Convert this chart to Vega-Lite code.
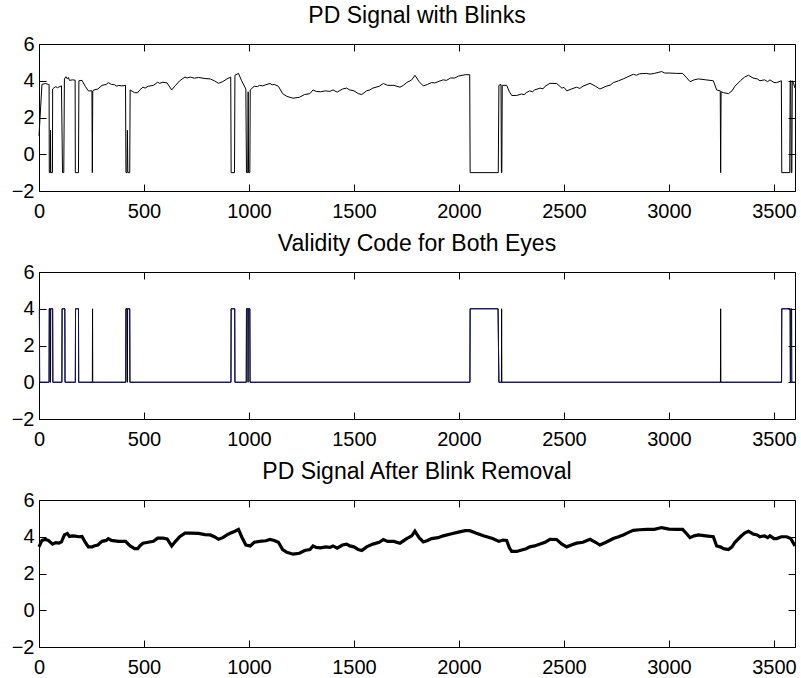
{
  "$schema": "https://vega.github.io/schema/vega-lite/v6.json",
  "background": "white",
  "padding": {"left": 10, "top": 4, "right": 0, "bottom": 0},
  "spacing": 10,
  "config": {
    "view": {"stroke": "black", "strokeWidth": 1},
    "font": "Liberation Sans",
    "axis": {"grid": false, "domain": false, "tickSize": -7, "tickColor": "black", "tickWidth": 1, "labelFont": "Liberation Sans", "labelFontSize": 20, "labelColor": "black", "labelFlush": false, "labelOverlap": false, "format": "d"},
    "axisX": {"labelPadding": 17},
    "axisY": {"labelPadding": 12},
    "title": {"font": "Liberation Sans", "fontSize": 23, "fontWeight": "normal", "color": "black", "baseline": "alphabetic", "offset": 6}
  },
  "datasets": {
    "pd": [
      {"x":0,"y":1.0},{"x":14,"y":3.8},{"x":30,"y":3.85},{"x":45,"y":3.8},{"x":48,"y":3.8},{"x":49,"y":-1},{"x":54,"y":-1},{"x":55,"y":1.3},{"x":56,"y":-1},{"x":64,"y":-1},{"x":65,"y":3.55},{"x":72,"y":3.62},{"x":80,"y":3.68},{"x":88,"y":3.62},{"x":95,"y":3.66},{"x":107,"y":3.72},{"x":112,"y":-1},{"x":118,"y":-1},{"x":121,"y":4.1},{"x":128,"y":4.22},{"x":135,"y":4.1},{"x":140,"y":4.18},{"x":145,"y":4.02},{"x":160,"y":4.05},{"x":172,"y":4.03},{"x":173,"y":-1},{"x":188,"y":-1},{"x":190,"y":4.0},{"x":205,"y":4.02},{"x":220,"y":3.7},{"x":235,"y":3.45},{"x":252,"y":3.45},{"x":254,"y":-1},{"x":256,"y":3.45},{"x":262,"y":3.5},{"x":280,"y":3.55},{"x":300,"y":3.75},{"x":320,"y":3.8},{"x":330,"y":3.9},{"x":345,"y":3.8},{"x":360,"y":3.78},{"x":370,"y":3.7},{"x":380,"y":3.75},{"x":395,"y":3.72},{"x":412,"y":3.75},{"x":414,"y":-1},{"x":419,"y":-1},{"x":421,"y":1.3},{"x":423,"y":-1},{"x":432,"y":-1},{"x":434,"y":3.5},{"x":455,"y":3.35},{"x":470,"y":3.35},{"x":480,"y":3.5},{"x":495,"y":3.65},{"x":505,"y":3.6},{"x":520,"y":3.7},{"x":545,"y":3.75},{"x":565,"y":3.92},{"x":575,"y":3.86},{"x":590,"y":3.92},{"x":610,"y":3.88},{"x":632,"y":3.5},{"x":650,"y":3.75},{"x":670,"y":4.0},{"x":695,"y":4.2},{"x":705,"y":4.15},{"x":720,"y":4.2},{"x":740,"y":4.14},{"x":760,"y":4.18},{"x":790,"y":4.12},{"x":815,"y":4.1},{"x":835,"y":4.0},{"x":855,"y":3.86},{"x":875,"y":3.95},{"x":895,"y":4.1},{"x":913,"y":4.2},{"x":915,"y":-1},{"x":931,"y":-1},{"x":933,"y":4.3},{"x":950,"y":4.4},{"x":965,"y":4.0},{"x":985,"y":3.55},{"x":988,"y":-1},{"x":994,"y":-1},{"x":996,"y":3.4},{"x":998,"y":-1},{"x":1004,"y":-1},{"x":1006,"y":3.5},{"x":1025,"y":3.7},{"x":1040,"y":3.68},{"x":1050,"y":3.75},{"x":1065,"y":3.72},{"x":1080,"y":3.78},{"x":1100,"y":3.85},{"x":1110,"y":3.78},{"x":1120,"y":3.8},{"x":1140,"y":3.7},{"x":1160,"y":3.3},{"x":1180,"y":3.15},{"x":1210,"y":3.05},{"x":1240,"y":3.1},{"x":1265,"y":3.25},{"x":1290,"y":3.3},{"x":1305,"y":3.5},{"x":1320,"y":3.42},{"x":1340,"y":3.4},{"x":1365,"y":3.45},{"x":1385,"y":3.42},{"x":1400,"y":3.5},{"x":1420,"y":3.38},{"x":1445,"y":3.55},{"x":1465,"y":3.6},{"x":1480,"y":3.5},{"x":1500,"y":3.45},{"x":1520,"y":3.3},{"x":1537,"y":3.25},{"x":1560,"y":3.45},{"x":1575,"y":3.5},{"x":1590,"y":3.6},{"x":1620,"y":3.7},{"x":1640,"y":3.85},{"x":1660,"y":3.75},{"x":1690,"y":3.75},{"x":1719,"y":3.65},{"x":1735,"y":3.75},{"x":1751,"y":3.9},{"x":1775,"y":4.05},{"x":1790,"y":4.3},{"x":1810,"y":3.95},{"x":1830,"y":3.72},{"x":1850,"y":3.8},{"x":1870,"y":3.9},{"x":1885,"y":3.88},{"x":1900,"y":3.95},{"x":1925,"y":4.05},{"x":1940,"y":4.02},{"x":1960,"y":4.15},{"x":1980,"y":4.15},{"x":1997,"y":4.25},{"x":2030,"y":4.33},{"x":2051,"y":4.33},{"x":2053,"y":-1},{"x":2187,"y":-1},{"x":2190,"y":3.75},{"x":2200,"y":3.8},{"x":2202,"y":-1},{"x":2204,"y":-1},{"x":2206,"y":3.75},{"x":2227,"y":3.75},{"x":2240,"y":3.4},{"x":2251,"y":3.2},{"x":2275,"y":3.2},{"x":2298,"y":3.28},{"x":2310,"y":3.24},{"x":2320,"y":3.35},{"x":2337,"y":3.45},{"x":2350,"y":3.4},{"x":2360,"y":3.5},{"x":2386,"y":3.6},{"x":2400,"y":3.56},{"x":2410,"y":3.7},{"x":2433,"y":3.86},{"x":2465,"y":3.85},{"x":2490,"y":3.6},{"x":2500,"y":3.64},{"x":2513,"y":3.45},{"x":2535,"y":3.55},{"x":2560,"y":3.65},{"x":2575,"y":3.58},{"x":2590,"y":3.7},{"x":2624,"y":3.86},{"x":2650,"y":3.7},{"x":2671,"y":3.55},{"x":2700,"y":3.7},{"x":2720,"y":3.76},{"x":2735,"y":3.9},{"x":2760,"y":4.0},{"x":2782,"y":4.1},{"x":2810,"y":4.25},{"x":2830,"y":4.35},{"x":2845,"y":4.3},{"x":2860,"y":4.38},{"x":2894,"y":4.4},{"x":2910,"y":4.36},{"x":2930,"y":4.4},{"x":2965,"y":4.5},{"x":2980,"y":4.42},{"x":3000,"y":4.42},{"x":3037,"y":4.4},{"x":3065,"y":4.4},{"x":3085,"y":4.15},{"x":3100,"y":3.95},{"x":3120,"y":4.05},{"x":3140,"y":4.1},{"x":3175,"y":4.05},{"x":3211,"y":4.0},{"x":3227,"y":3.5},{"x":3244,"y":3.45},{"x":3246,"y":-1},{"x":3248,"y":3.4},{"x":3260,"y":3.35},{"x":3283,"y":3.3},{"x":3300,"y":3.45},{"x":3314,"y":3.7},{"x":3340,"y":4.0},{"x":3360,"y":4.2},{"x":3378,"y":4.3},{"x":3400,"y":4.15},{"x":3420,"y":4.1},{"x":3433,"y":4.0},{"x":3455,"y":4.05},{"x":3470,"y":3.95},{"x":3481,"y":4.05},{"x":3500,"y":3.9},{"x":3513,"y":3.9},{"x":3535,"y":4.0},{"x":3537,"y":-1},{"x":3575,"y":-1},{"x":3577,"y":4.0},{"x":3580,"y":4.0},{"x":3582,"y":-1},{"x":3585,"y":-1},{"x":3587,"y":4.0},{"x":3592,"y":3.9},{"x":3600,"y":3.6}
    ],
    "validity": [
      {"x":0,"y":4,"eye":"R"},{"x":2,"y":4,"eye":"R"},{"x":3,"y":0,"eye":"R"},{"x":48,"y":0,"eye":"R"},{"x":49,"y":4,"eye":"R"},{"x":65,"y":4,"eye":"R"},{"x":66,"y":0,"eye":"R"},{"x":109,"y":0,"eye":"R"},{"x":110,"y":4,"eye":"R"},{"x":123,"y":4,"eye":"R"},{"x":124,"y":0,"eye":"R"},{"x":173,"y":0,"eye":"R"},{"x":174,"y":4,"eye":"R"},{"x":188,"y":4,"eye":"R"},{"x":189,"y":0,"eye":"R"},{"x":413,"y":0,"eye":"R"},{"x":414,"y":4,"eye":"R"},{"x":432,"y":4,"eye":"R"},{"x":433,"y":0,"eye":"R"},{"x":914,"y":0,"eye":"R"},{"x":915,"y":4,"eye":"R"},{"x":932,"y":4,"eye":"R"},{"x":933,"y":0,"eye":"R"},{"x":987,"y":0,"eye":"R"},{"x":988,"y":4,"eye":"R"},{"x":1004,"y":4,"eye":"R"},{"x":1005,"y":0,"eye":"R"},{"x":2052,"y":0,"eye":"R"},{"x":2053,"y":4,"eye":"R"},{"x":2186,"y":4,"eye":"R"},{"x":2190,"y":0,"eye":"R"},{"x":3536,"y":0,"eye":"R"},{"x":3537,"y":4,"eye":"R"},{"x":3577,"y":4,"eye":"R"},{"x":3578,"y":0,"eye":"R"},{"x":3600,"y":0,"eye":"R"},
      {"x":0,"y":4,"eye":"L"},{"x":2,"y":4,"eye":"L"},{"x":3,"y":0,"eye":"L"},{"x":48,"y":0,"eye":"L"},{"x":49,"y":4,"eye":"L"},{"x":53,"y":4,"eye":"L"},{"x":54,"y":0,"eye":"L"},{"x":55,"y":0,"eye":"L"},{"x":56,"y":4,"eye":"L"},{"x":65,"y":4,"eye":"L"},{"x":66,"y":0,"eye":"L"},{"x":109,"y":0,"eye":"L"},{"x":110,"y":4,"eye":"L"},{"x":123,"y":4,"eye":"L"},{"x":124,"y":0,"eye":"L"},{"x":173,"y":0,"eye":"L"},{"x":174,"y":4,"eye":"L"},{"x":188,"y":4,"eye":"L"},{"x":189,"y":0,"eye":"L"},{"x":254,"y":0,"eye":"L"},{"x":255,"y":4,"eye":"L"},{"x":256,"y":0,"eye":"L"},{"x":413,"y":0,"eye":"L"},{"x":414,"y":4,"eye":"L"},{"x":419,"y":4,"eye":"L"},{"x":420,"y":0,"eye":"L"},{"x":421,"y":0,"eye":"L"},{"x":422,"y":4,"eye":"L"},{"x":432,"y":4,"eye":"L"},{"x":433,"y":0,"eye":"L"},{"x":914,"y":0,"eye":"L"},{"x":915,"y":4,"eye":"L"},{"x":932,"y":4,"eye":"L"},{"x":933,"y":0,"eye":"L"},{"x":987,"y":0,"eye":"L"},{"x":988,"y":4,"eye":"L"},{"x":994,"y":4,"eye":"L"},{"x":995,"y":0,"eye":"L"},{"x":996,"y":0,"eye":"L"},{"x":997,"y":4,"eye":"L"},{"x":1004,"y":4,"eye":"L"},{"x":1005,"y":0,"eye":"L"},{"x":2052,"y":0,"eye":"L"},{"x":2053,"y":4,"eye":"L"},{"x":2186,"y":4,"eye":"L"},{"x":2190,"y":0,"eye":"L"},{"x":2202,"y":0,"eye":"L"},{"x":2203,"y":4,"eye":"L"},{"x":2204,"y":0,"eye":"L"},{"x":3245,"y":0,"eye":"L"},{"x":3246,"y":4,"eye":"L"},{"x":3247,"y":0,"eye":"L"},{"x":3536,"y":0,"eye":"L"},{"x":3537,"y":4,"eye":"L"},{"x":3577,"y":4,"eye":"L"},{"x":3578,"y":0,"eye":"L"},{"x":3580,"y":0,"eye":"L"},{"x":3581,"y":4,"eye":"L"},{"x":3584,"y":4,"eye":"L"},{"x":3585,"y":0,"eye":"L"},{"x":3600,"y":0,"eye":"L"}
    ],
    "clean": [
      {"x":0,"y":3.45},{"x":14,"y":3.8},{"x":30,"y":3.85},{"x":45,"y":3.8},{"x":65,"y":3.6},{"x":80,"y":3.68},{"x":95,"y":3.66},{"x":107,"y":3.72},{"x":121,"y":4.1},{"x":135,"y":4.18},{"x":145,"y":4.02},{"x":160,"y":4.05},{"x":172,"y":4.03},{"x":190,"y":4.0},{"x":205,"y":4.02},{"x":220,"y":3.7},{"x":235,"y":3.45},{"x":252,"y":3.45},{"x":262,"y":3.5},{"x":280,"y":3.55},{"x":300,"y":3.75},{"x":320,"y":3.8},{"x":330,"y":3.9},{"x":345,"y":3.8},{"x":360,"y":3.78},{"x":380,"y":3.75},{"x":412,"y":3.75},{"x":434,"y":3.5},{"x":455,"y":3.35},{"x":470,"y":3.35},{"x":480,"y":3.5},{"x":495,"y":3.65},{"x":520,"y":3.7},{"x":545,"y":3.75},{"x":565,"y":3.92},{"x":590,"y":3.92},{"x":610,"y":3.88},{"x":632,"y":3.5},{"x":650,"y":3.75},{"x":670,"y":4.0},{"x":695,"y":4.2},{"x":720,"y":4.2},{"x":760,"y":4.18},{"x":790,"y":4.12},{"x":815,"y":4.1},{"x":835,"y":4.0},{"x":855,"y":3.86},{"x":875,"y":3.95},{"x":895,"y":4.1},{"x":913,"y":4.2},{"x":933,"y":4.3},{"x":950,"y":4.4},{"x":965,"y":4.0},{"x":985,"y":3.55},{"x":1006,"y":3.5},{"x":1025,"y":3.7},{"x":1050,"y":3.75},{"x":1080,"y":3.78},{"x":1100,"y":3.85},{"x":1120,"y":3.8},{"x":1140,"y":3.7},{"x":1160,"y":3.3},{"x":1180,"y":3.15},{"x":1210,"y":3.05},{"x":1240,"y":3.1},{"x":1265,"y":3.25},{"x":1290,"y":3.3},{"x":1305,"y":3.5},{"x":1320,"y":3.42},{"x":1340,"y":3.4},{"x":1365,"y":3.45},{"x":1385,"y":3.42},{"x":1400,"y":3.5},{"x":1420,"y":3.38},{"x":1445,"y":3.55},{"x":1465,"y":3.6},{"x":1480,"y":3.5},{"x":1500,"y":3.45},{"x":1520,"y":3.3},{"x":1537,"y":3.25},{"x":1560,"y":3.45},{"x":1590,"y":3.6},{"x":1620,"y":3.7},{"x":1640,"y":3.85},{"x":1660,"y":3.75},{"x":1690,"y":3.75},{"x":1719,"y":3.65},{"x":1751,"y":3.9},{"x":1775,"y":4.05},{"x":1790,"y":4.3},{"x":1810,"y":3.95},{"x":1830,"y":3.72},{"x":1850,"y":3.8},{"x":1870,"y":3.9},{"x":1900,"y":3.95},{"x":1925,"y":4.05},{"x":1960,"y":4.15},{"x":1997,"y":4.25},{"x":2030,"y":4.33},{"x":2051,"y":4.33},{"x":2080,"y":4.2},{"x":2116,"y":4.05},{"x":2160,"y":3.9},{"x":2190,"y":3.75},{"x":2210,"y":3.82},{"x":2227,"y":3.8},{"x":2240,"y":3.4},{"x":2251,"y":3.2},{"x":2275,"y":3.2},{"x":2298,"y":3.28},{"x":2320,"y":3.35},{"x":2337,"y":3.45},{"x":2360,"y":3.5},{"x":2386,"y":3.6},{"x":2410,"y":3.7},{"x":2433,"y":3.86},{"x":2465,"y":3.85},{"x":2490,"y":3.6},{"x":2513,"y":3.45},{"x":2535,"y":3.55},{"x":2560,"y":3.65},{"x":2590,"y":3.7},{"x":2624,"y":3.86},{"x":2650,"y":3.7},{"x":2671,"y":3.55},{"x":2700,"y":3.7},{"x":2735,"y":3.9},{"x":2760,"y":4.0},{"x":2782,"y":4.1},{"x":2810,"y":4.25},{"x":2830,"y":4.35},{"x":2860,"y":4.38},{"x":2894,"y":4.4},{"x":2930,"y":4.4},{"x":2965,"y":4.5},{"x":3000,"y":4.42},{"x":3037,"y":4.4},{"x":3065,"y":4.4},{"x":3085,"y":4.15},{"x":3100,"y":3.95},{"x":3120,"y":4.05},{"x":3140,"y":4.1},{"x":3175,"y":4.05},{"x":3211,"y":4.0},{"x":3227,"y":3.5},{"x":3244,"y":3.45},{"x":3260,"y":3.35},{"x":3283,"y":3.3},{"x":3300,"y":3.45},{"x":3314,"y":3.7},{"x":3340,"y":4.0},{"x":3360,"y":4.2},{"x":3378,"y":4.3},{"x":3400,"y":4.15},{"x":3420,"y":4.1},{"x":3433,"y":4.0},{"x":3455,"y":4.05},{"x":3470,"y":3.95},{"x":3481,"y":4.05},{"x":3500,"y":3.9},{"x":3513,"y":3.9},{"x":3535,"y":4.0},{"x":3560,"y":4.0},{"x":3580,"y":3.9},{"x":3600,"y":3.5}
    ]
  },
  "vconcat": [
    {
      "width": 756, "height": 147,
      "title": "PD Signal with Blinks",
      "data": {"name": "pd"},
      "layer": [
        {"mark": {"type": "line", "color": "black", "strokeWidth": 1},
         "encoding": {
           "x": {"field": "x", "type": "quantitative", "title": null, "scale": {"domain": [0, 3600], "nice": false, "zero": false}, "axis": {"orient": "bottom", "values": [0,500,1000,1500,2000,2500,3000,3500]}},
           "y": {"field": "y", "type": "quantitative", "title": null, "scale": {"domain": [-2, 6], "nice": false}, "axis": {"orient": "left", "values": [-2,0,2,4,6]}}
         }},
        {"mark": {"type": "line", "opacity": 0},
         "encoding": {
           "x": {"field": "x", "type": "quantitative", "title": null, "axis": {"orient": "top", "labels": false, "values": [0,500,1000,1500,2000,2500,3000,3500]}},
           "y": {"field": "y", "type": "quantitative", "title": null, "axis": {"orient": "right", "labels": false, "values": [-2,0,2,4,6]}}
         }}
      ],
      "resolve": {"axis": {"x": "independent", "y": "independent"}}
    },
    {
      "width": 756, "height": 147,
      "title": "Validity Code for Both Eyes",
      "data": {"name": "validity"},
      "layer": [
        {"transform": [{"filter": "datum.eye === 'L'"}],
         "mark": {"type": "line", "color": "black", "strokeWidth": 1},
         "encoding": {
           "x": {"field": "x", "type": "quantitative", "title": null, "scale": {"domain": [0, 3600], "nice": false, "zero": false}, "axis": {"orient": "bottom", "values": [0,500,1000,1500,2000,2500,3000,3500]}},
           "y": {"field": "y", "type": "quantitative", "title": null, "scale": {"domain": [-2, 6], "nice": false}, "axis": {"orient": "left", "values": [-2,0,2,4,6]}}
         }},
        {"transform": [{"filter": "datum.eye === 'R'"}],
         "mark": {"type": "line", "color": "#10106e", "strokeWidth": 1},
         "encoding": {
           "x": {"field": "x", "type": "quantitative", "title": null, "axis": {"orient": "top", "labels": false, "values": [0,500,1000,1500,2000,2500,3000,3500]}},
           "y": {"field": "y", "type": "quantitative", "title": null, "axis": {"orient": "right", "labels": false, "values": [-2,0,2,4,6]}}
         }}
      ],
      "resolve": {"axis": {"x": "independent", "y": "independent"}}
    },
    {
      "width": 756, "height": 147,
      "title": "PD Signal After Blink Removal",
      "data": {"name": "clean"},
      "layer": [
        {"mark": {"type": "line", "color": "black", "strokeWidth": 3.2},
         "encoding": {
           "x": {"field": "x", "type": "quantitative", "title": null, "scale": {"domain": [0, 3600], "nice": false, "zero": false}, "axis": {"orient": "bottom", "values": [0,500,1000,1500,2000,2500,3000,3500]}},
           "y": {"field": "y", "type": "quantitative", "title": null, "scale": {"domain": [-2, 6], "nice": false}, "axis": {"orient": "left", "values": [-2,0,2,4,6]}}
         }},
        {"mark": {"type": "line", "opacity": 0},
         "encoding": {
           "x": {"field": "x", "type": "quantitative", "title": null, "axis": {"orient": "top", "labels": false, "values": [0,500,1000,1500,2000,2500,3000,3500]}},
           "y": {"field": "y", "type": "quantitative", "title": null, "axis": {"orient": "right", "labels": false, "values": [-2,0,2,4,6]}}
         }}
      ],
      "resolve": {"axis": {"x": "independent", "y": "independent"}}
    }
  ]
}
